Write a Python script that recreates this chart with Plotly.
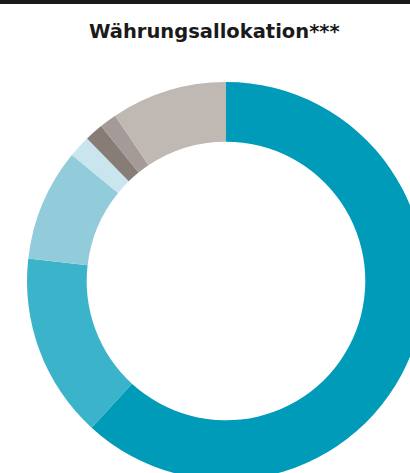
import plotly.graph_objects as go

# Data
currencies = ["EUR", "USD", "GBP", "CHF", "JPY", "SEK", "Sonstige"]
shares = [61.8, 15.0, 9.1, 1.8, 1.5, 1.4, 9.4]
colors = ["#009BB9", "#3AB3CB", "#92CCDA", "#C9E5ED", "#877C76", "#A49B98", "#C0B8B3"]
title_text = "Währungsallokation***"

W, H = 452, 500
cx, cy, R = 226, 281, 199

fig = go.Figure(go.Pie(
    labels=currencies,
    values=shares,
    hole=0.70,
    sort=False,
    direction="clockwise",
    rotation=0,
    marker=dict(colors=colors, line=dict(width=0)),
    textinfo="none",
    hoverinfo="label+percent",
    showlegend=False,
    domain=dict(x=[(cx - R) / W, (cx + R) / W], y=[1 - (cy + R) / H, 1 - (cy - R) / H]),
))

fig.update_layout(
    width=W, height=H,
    margin=dict(l=0, r=0, t=0, b=0),
    paper_bgcolor="white",
    plot_bgcolor="white",
    showlegend=False,
    shapes=[dict(type="rect", xref="paper", yref="paper", x0=0, x1=1,
                 y0=1 - 4 / H, y1=1, fillcolor="#1a1a1a", line=dict(width=0), layer="above")],
    annotations=[dict(text="<b>" + title_text + "</b>", xref="paper", yref="paper",
                      x=214 / W, y=1 - 31 / H, xanchor="center", yanchor="middle",
                      showarrow=False,
                      font=dict(family="DejaVu Sans", size=19.5, color="#1a1a1a"))],
)

fig.write_html("out.html", config={"displayModeBar": False},
               post_script="document.body.style.margin='0';document.body.style.overflow='hidden';")
